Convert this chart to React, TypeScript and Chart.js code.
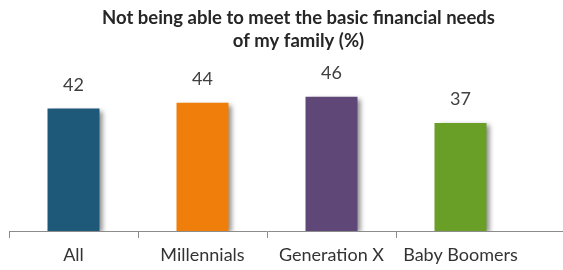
import React, { useEffect, useRef } from "react";
import { Chart, registerables } from "chart.js";

Chart.register(...registerables);

const categories = ["All", "Millennials", "Generation X", "Baby Boomers"];
const values = [42, 44, 46, 37];
const barColors = ["#1f597a", "#ef7f0a", "#5f4777", "#6a9f27"];
const titleLines = ["Not being able to meet the basic financial needs", "of my family (%)"];

const FONT = "Lato, 'Open Sans', sans-serif";

export default function App() {
  const ref = useRef<HTMLCanvasElement | null>(null);

  useEffect(() => {
    document.body.style.margin = "0";
    const canvas = ref.current;
    if (!canvas) return;

    const shadowPlugin = {
      id: "barShadow",
      beforeDatasetsDraw(chart: any) {
        const ctx = chart.ctx;
        ctx.save();
        ctx.shadowColor = "rgba(0,0,0,0.45)";
        ctx.shadowOffsetX = 4;
        ctx.shadowOffsetY = 2;
        ctx.shadowBlur = 5;
      },
      afterDatasetsDraw(chart: any) {
        chart.ctx.restore();
      },
    };

    const labelPlugin = {
      id: "valueLabels",
      afterDatasetsDraw(chart: any) {
        const ctx = chart.ctx;
        const meta = chart.getDatasetMeta(0);
        ctx.save();
        ctx.font = `18px ${FONT}`;
        ctx.fillStyle = "#404040";
        ctx.textAlign = "center";
        ctx.textBaseline = "alphabetic";
        meta.data.forEach((bar: any, i: number) => {
          ctx.fillText(String(values[i]), bar.x, bar.y - 18);
        });
        ctx.restore();
      },
    };

    const titlePlugin = {
      id: "customTitle",
      afterDraw(chart: any) {
        const ctx = chart.ctx;
        ctx.save();
        ctx.font = `bold 18.5px ${FONT}`;
        ctx.fillStyle = "#262626";
        ctx.textAlign = "center";
        ctx.textBaseline = "alphabetic";
        ctx.fillText(titleLines[0], 298.5, 24);
        ctx.fillText(titleLines[1], 298.5, 47);
        ctx.restore();
      },
    };

    const axisExtend = {
      id: "axisExtend",
      afterDraw(chart: any) {
        const ctx = chart.ctx;
        const y = chart.scales.x.top;
        ctx.save();
        ctx.strokeStyle = "#8c8c8c";
        ctx.lineWidth = 1;
        ctx.beginPath();
        ctx.moveTo(chart.chartArea.right, Math.round(y) + 0.5);
        ctx.lineTo(chart.width, Math.round(y) + 0.5);
        ctx.stroke();
        ctx.restore();
      },
    };

    const chart = new Chart(canvas, {
      type: "bar",
      data: {
        labels: categories,
        datasets: [
          {
            data: values,
            backgroundColor: barColors,
            borderWidth: 0,
            categoryPercentage: 1,
            barPercentage: 0.403,
          },
        ],
      },
      options: {
        animation: false,
        responsive: false,
        layout: { padding: { left: 9, right: 38, top: 56, bottom: -1.6 } },
        plugins: {
          legend: { display: false },
          title: { display: false },
          tooltip: { enabled: false },
        },
        scales: {
          x: {
            offset: true,
            grid: {
              offset: true,
              drawOnChartArea: false,
              drawTicks: true,
              tickLength: 7,
              color: (c: any) => (c.type === "tick" ? "#8c8c8c" : "rgba(0,0,0,0)"),
            },
            border: { display: true, color: "#8c8c8c", width: 1 },
            ticks: {
              color: "#333333",
              font: { family: FONT, size: 18 },
              padding: 6,
              maxRotation: 0,
              autoSkip: false,
            },
          },
          y: {
            display: false,
            min: 0,
            max: 60,
          },
        },
      },
      plugins: [shadowPlugin, labelPlugin, titlePlugin, axisExtend],
    });

    return () => chart.destroy();
  }, []);

  return (
    <div style={{ width: 563, height: 270 }}>
      <canvas ref={ref} width={563} height={270} style={{ display: "block" }} />
    </div>
  );
}
